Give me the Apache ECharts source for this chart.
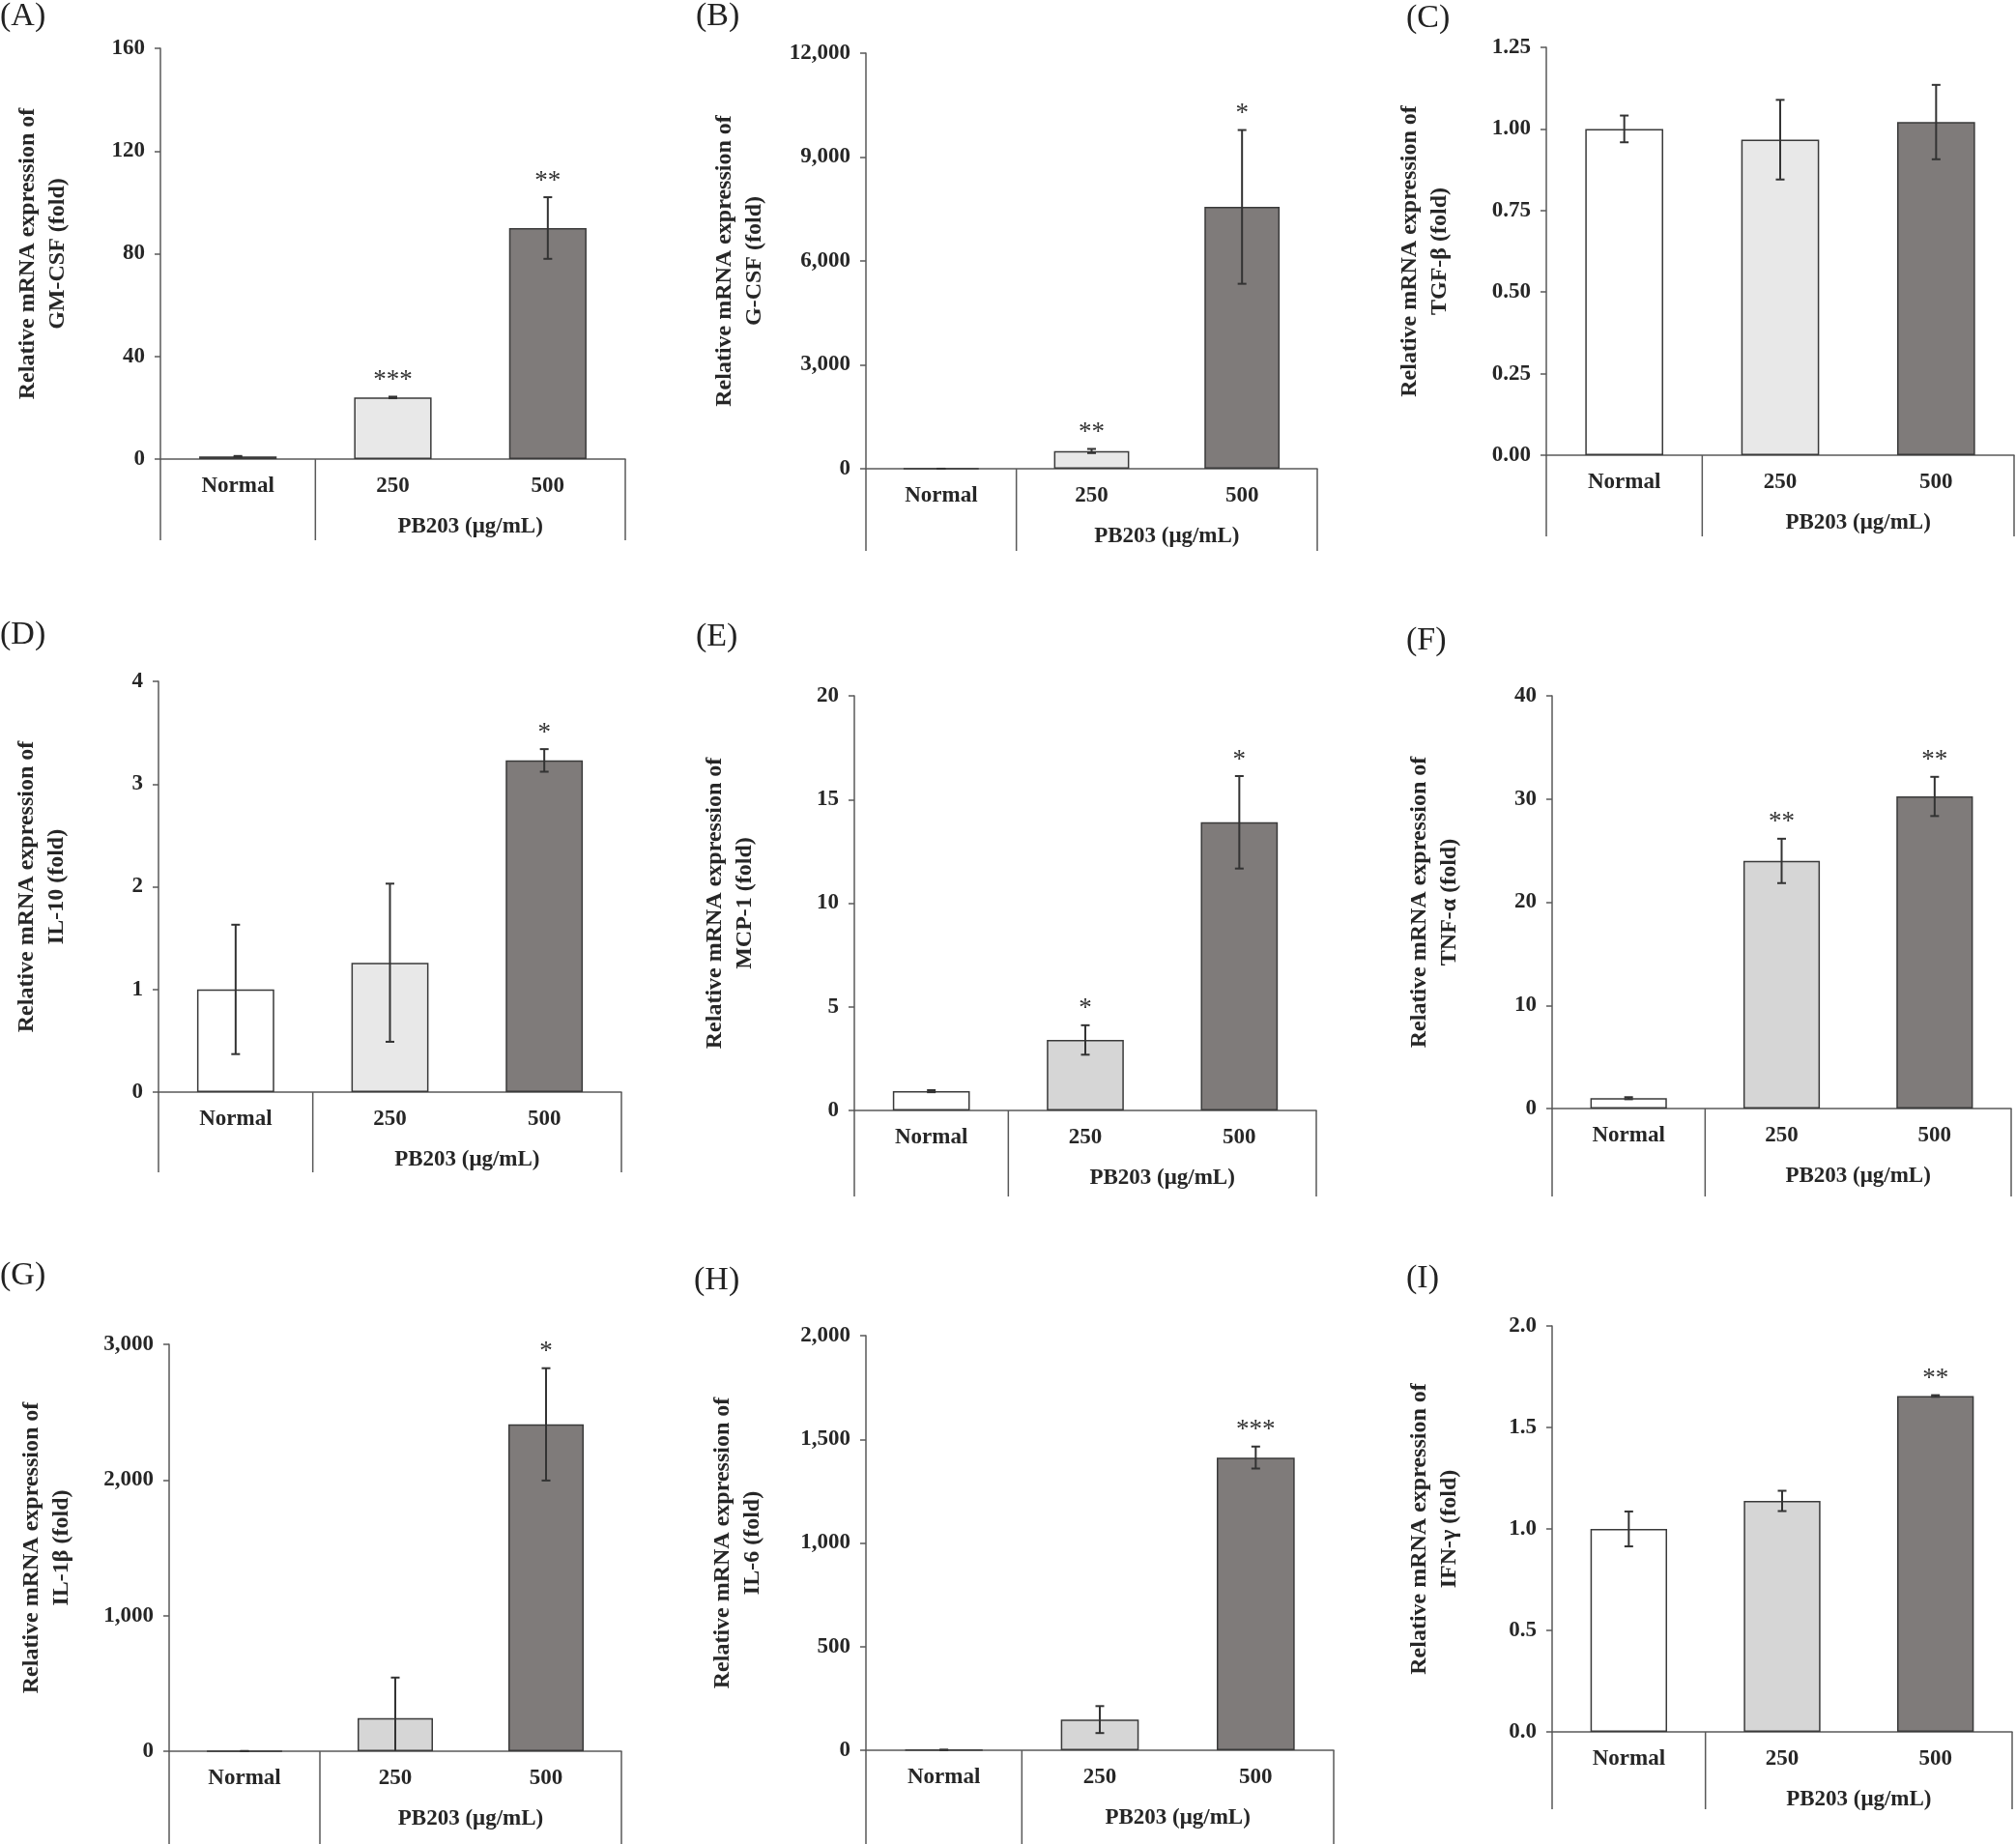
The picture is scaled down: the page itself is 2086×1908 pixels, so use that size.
<!DOCTYPE html>
<html><head><meta charset="utf-8">
<script src="https://cdn.jsdelivr.net/npm/echarts@6/dist/echarts.min.js"></script>
<style>html,body{margin:0;padding:0;background:#fff}#chart{width:2086px;height:1908px}</style>
</head><body><div id="chart"></div>
<script>
// ---------------- DATA ----------------
const categories = ['Normal', '250', '500'];
const groupLabel = 'PB203 (\u03bcg/mL)';
const yTitlePrefix = 'Relative mRNA expression of';
const panelLabels = ['(A)', '(B)', '(C)', '(D)', '(E)', '(F)', '(G)', '(H)', '(I)'];
const genes = ['GM-CSF', 'G-CSF', 'TGF-\u03b2', 'IL-10', 'MCP-1', 'TNF-\u03b1', 'IL-1\u03b2', 'IL-6', 'IFN-\u03b3'];

const gmcsfMean = [1, 24, 90];
const gmcsfErr = [0.2, 0.3, 12];
const gmcsfSig = ['', '***', '**'];
const gmcsfTicks = [0, 40, 80, 120, 160];

const gcsfMean = [1, 512, 7560];
const gcsfErr = [0.5, 60, 2220];
const gcsfSig = ['', '**', '*'];
const gcsfTicks = [0, 3000, 6000, 9000, 12000];

const tgfbMean = [1.0, 0.967, 1.021];
const tgfbErr = [0.041, 0.122, 0.114];
const tgfbSig = ['', '', ''];
const tgfbTicks = [0, 0.25, 0.5, 0.75, 1.0, 1.25];

const il10Mean = [1.0, 1.26, 3.23];
const il10Err = [0.63, 0.77, 0.11];
const il10Sig = ['', '', '*'];
const il10Ticks = [0, 1, 2, 3, 4];

const mcp1Mean = [0.93, 3.4, 13.9];
const mcp1Err = [0.05, 0.71, 2.23];
const mcp1Sig = ['', '*', '*'];
const mcp1Ticks = [0, 5, 10, 15, 20];

const tnfaMean = [1.0, 24.0, 30.25];
const tnfaErr = [0.1, 2.15, 1.9];
const tnfaSig = ['', '**', '**'];
const tnfaTicks = [0, 10, 20, 30, 40];

const il1bMean = [1, 244, 2410];
const il1bErr = [0.5, 299, 414];
const il1bSig = ['', '', '*'];
const il1bTicks = [0, 1000, 2000, 3000];

const il6Mean = [2, 148, 1412];
const il6Err = [0.5, 65, 53];
const il6Sig = ['', '', '***'];
const il6Ticks = [0, 500, 1000, 1500, 2000];

const ifngMean = [1.0, 1.138, 1.655];
const ifngErr = [0.086, 0.05, 0.004];
const ifngSig = ['', '', '**'];
const ifngTicks = [0, 0.5, 1.0, 1.5, 2.0];

const tickDecimals = [0, 0, 2, 0, 0, 0, 0, 0, 1];
const tickComma = [false, true, false, false, false, false, true, true, false];

// ---------------- LAYOUT / STYLE ----------------
const layout = [
  {left: 166, top: 50, w: 481, h: 425, depth: 84, gap: 91, lx: 0, ly: 0},
  {left: 896, top: 55, w: 467, h: 430, depth: 85, gap: 100, lx: 720, ly: 0},
  {left: 1600, top: 49, w: 484, h: 422, depth: 84, gap: 95, lx: 1455, ly: 2},
  {left: 164, top: 705, w: 479, h: 425, depth: 83, gap: 90, lx: 0, ly: 640},
  {left: 884, top: 720, w: 478, h: 429, depth: 89, gap: 98, lx: 720, ly: 642},
  {left: 1606, top: 720, w: 475, h: 427, depth: 91, gap: 91, lx: 1455, ly: 646},
  {left: 175, top: 1391, w: 468, h: 421, depth: 100, gap: 96, lx: 0, ly: 1303},
  {left: 896, top: 1382, w: 484, h: 429, depth: 100, gap: 102, lx: 718, ly: 1308},
  {left: 1606, top: 1372, w: 476, h: 420, depth: 80, gap: 91, lx: 1455, ly: 1306}
];
const lightFill = ['#e8e8e8', '#e8e8e8', '#e8e8e8', '#e8e8e8', '#d6d6d6', '#d6d6d6', '#d6d6d6', '#d6d6d6', '#d6d6d6'];
const darkFill = '#7f7b7a';
const axisColor = '#595959';
const textColor = '#262626';
const SERIF = '"Liberation Serif", "Times New Roman", serif';

const panels = [
  {mean: gmcsfMean, err: gmcsfErr, sig: gmcsfSig, ticks: gmcsfTicks},
  {mean: gcsfMean, err: gcsfErr, sig: gcsfSig, ticks: gcsfTicks},
  {mean: tgfbMean, err: tgfbErr, sig: tgfbSig, ticks: tgfbTicks},
  {mean: il10Mean, err: il10Err, sig: il10Sig, ticks: il10Ticks},
  {mean: mcp1Mean, err: mcp1Err, sig: mcp1Sig, ticks: mcp1Ticks},
  {mean: tnfaMean, err: tnfaErr, sig: tnfaSig, ticks: tnfaTicks},
  {mean: il1bMean, err: il1bErr, sig: il1bSig, ticks: il1bTicks},
  {mean: il6Mean, err: il6Err, sig: il6Sig, ticks: il6Ticks},
  {mean: ifngMean, err: ifngErr, sig: ifngSig, ticks: ifngTicks}
];

function fmt(v, dec, comma) {
  let s = v.toFixed(dec);
  if (comma) s = Number(s).toLocaleString('en-US');
  return s;
}

const grid = [], xAxis = [], yAxis = [], series = [], graphic = [];
panels.forEach((p, i) => {
  const L = layout[i];
  grid.push({left: L.left, top: L.top, width: L.w, height: L.h, containLabel: false});
  xAxis.push({
    type: 'category', gridIndex: i, data: categories,
    axisLine: {show: true, lineStyle: {color: axisColor, width: 1.5}},
    axisTick: {show: false},
    axisLabel: {margin: 17, color: textColor, fontFamily: SERIF, fontWeight: 'bold', fontSize: 23}
  });
  const t = p.ticks;
  yAxis.push({
    type: 'value', gridIndex: i, min: t[0], max: t[t.length - 1], interval: t[1] - t[0],
    name: yTitlePrefix + '\n' + genes[i] + ' (fold)',
    nameLocation: 'middle', nameGap: L.gap,
    nameTextStyle: {color: textColor, fontFamily: SERIF, fontWeight: 'bold', fontSize: 24, lineHeight: 31},
    axisLine: {show: true, lineStyle: {color: axisColor, width: 1.5}},
    axisTick: {show: true, length: 6, lineStyle: {color: axisColor, width: 1.5}},
    splitLine: {show: false},
    axisLabel: {margin: 16, color: textColor, fontFamily: SERIF, fontWeight: 'bold', fontSize: 23,
      formatter: v => fmt(v, tickDecimals[i], tickComma[i])}
  });
  const fills = ['#ffffff', lightFill[i], darkFill];
  series.push({
    type: 'bar', xAxisIndex: i, yAxisIndex: i, barWidth: '50%', silent: true,
    itemStyle: {borderColor: '#3a3a3a', borderWidth: 1.5},
    data: p.mean.map((v, j) => ({value: v, itemStyle: {color: fills[j]}}))
  });
  series.push({
    type: 'custom', xAxisIndex: i, yAxisIndex: i, silent: true, z: 5,
    data: p.mean.map((v, j) => [j, v, p.err[j]]),
    renderItem: (params, api) => {
      const x = api.value(0), m = api.value(1), e = api.value(2);
      const idx = params.dataIndex;
      const lo = Math.max(m - e, t[0]);
      const top = api.coord([x, m + e]);
      const bot = api.coord([x, lo]);
      const cap = 4.5;
      const st = {stroke: '#333333', lineWidth: 2};
      const ch = [
        {type: 'line', shape: {x1: top[0], y1: top[1], x2: bot[0], y2: bot[1]}, style: st},
        {type: 'line', shape: {x1: top[0] - cap, y1: top[1], x2: top[0] + cap, y2: top[1]}, style: st}
      ];
      if (m - e >= t[0]) ch.push({type: 'line', shape: {x1: bot[0] - cap, y1: bot[1], x2: bot[0] + cap, y2: bot[1]}, style: st});
      const s = p.sig[idx];
      if (s) ch.push({type: 'text', style: {text: s, x: top[0], y: top[1] - 3, align: 'center', verticalAlign: 'bottom',
        fontFamily: SERIF, fontSize: 27, fill: '#333333'}});
      return {type: 'group', children: ch};
    }
  });
  series.push({
    type: 'custom', xAxisIndex: i, yAxisIndex: i, silent: true, z: 4,
    data: [[0, t[0]]],
    renderItem: (params, api) => {
      const c0 = api.coord([0, t[0]]), c1 = api.coord([1, t[0]]), c2 = api.coord([2, t[0]]);
      const bw = api.size([1, 0])[0];
      const y0 = c0[1];
      const st = {stroke: axisColor, lineWidth: 1.5};
      const xs = [c0[0] - bw / 2, c0[0] + bw / 2, c2[0] + bw / 2];
      const ch = xs.map(x => ({type: 'line', shape: {x1: x, y1: y0, x2: x, y2: y0 + L.depth}, style: st}));
      ch.push({type: 'text', style: {text: groupLabel, x: (c1[0] + c2[0]) / 2, y: y0 + 70, align: 'center', verticalAlign: 'middle',
        fontFamily: SERIF, fontWeight: 'bold', fontSize: 23, fill: textColor}});
      return {type: 'group', children: ch};
    }
  });
  graphic.push({type: 'text', left: L.lx, top: L.ly, silent: true,
    style: {text: panelLabels[i], fontFamily: SERIF, fontSize: 34, fill: '#222222'}});
});

const chart = echarts.init(document.getElementById('chart'), null, {renderer: 'canvas'});
chart.setOption({backgroundColor: '#ffffff', animation: false, grid, xAxis, yAxis, series, graphic});
</script></body></html>
